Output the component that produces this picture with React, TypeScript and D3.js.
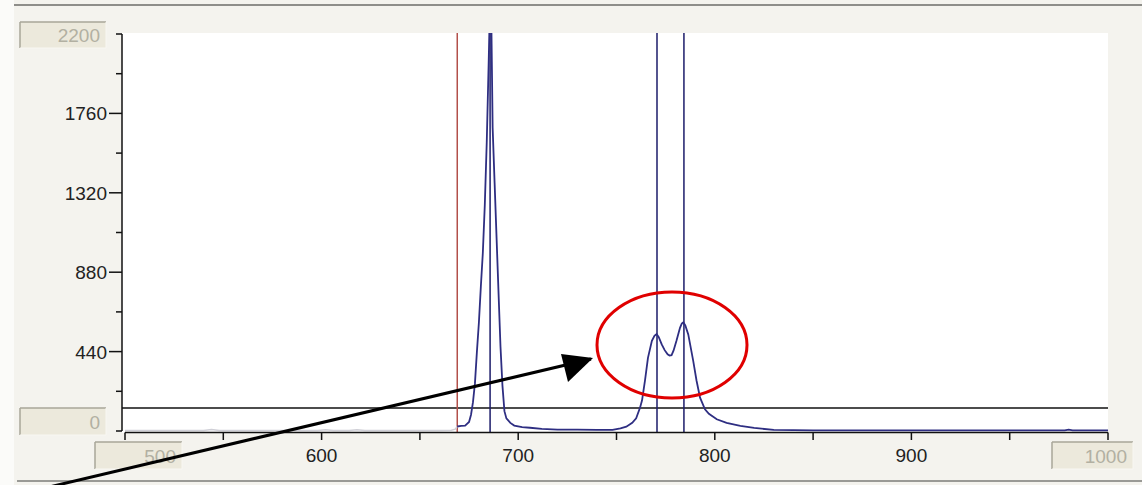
import React from "react";
import * as d3 from "d3";

const wavelengths = [500, 540, 544, 548, 598, 602, 606, 614, 618, 622, 660, 666, 668, 669,
  671, 673, 675, 676, 677, 678, 679, 680, 681, 682, 683, 684, 685, 685.7, 686.3, 687, 688, 689, 690, 691, 692, 693, 694, 696, 698,
  702, 706, 712, 720, 730, 740, 748, 752, 755, 758, 760, 762, 763, 764.5, 766, 768, 769.3, 770.4, 771.5, 773, 774.5, 776, 777, 778, 779, 780.5, 782.3, 783.2, 784, 785, 786.5,
  789, 790.7, 792.5, 795, 797, 801, 806, 813, 820, 830, 850, 900, 960, 978, 980, 982, 1000];
const intensities = [3, 3, 8, 3, 3, 7, 3, 3, 7, 3, 3, 4, 10, 25,
  28, 30, 50, 90, 160, 265, 440, 600, 800, 985, 1250, 1600, 2050, 2400, 2300, 1680, 1375, 1070, 765, 465, 250, 110, 70, 45, 30,
  22, 18, 12, 8, 8, 6, 6, 15, 24, 45, 70, 130, 170, 280, 405, 500, 528, 537, 520, 480, 448, 425, 418, 420, 445, 500, 572, 595, 602, 585, 535,
  390, 280, 185, 120, 95, 65, 45, 28, 17, 6, 4, 3, 3, 3, 8, 3, 3];

const cutoff = 669;
const markerLines = [685.7, 770.6, 784.3];
const threshold = 127;

const yMajorTicks = [440, 880, 1320, 1760];
const yMinorTicks = [220, 660, 1100, 1540, 1980];
const xTicks = [500, 550, 600, 650, 700, 750, 800, 850, 900, 950, 1000];
const xLabels = [600, 700, 800, 900];

const W = 1142;
const H = 485;

export default function App() {
  const x = d3.scaleLinear().domain([500, 1000]).range([125, 1108]);
  const y = d3.scaleLinear().domain([0, 2200]).range([431, 34]);
  const pts = wavelengths.map((w, i) => [w, intensities[i]] as [number, number]);
  const faint = pts.filter((p) => p[0] <= cutoff);
  const dark = pts.filter((p) => p[0] >= cutoff);
  const line = d3.line<[number, number]>().x((d) => x(d[0])).y((d) => y(d[1]));
  const font = "'Liberation Sans', Arial, sans-serif";

  const box = (bx: number, by: number, bw: number, bh: number, label: string) => (
    <g key={label}>
      <rect x={bx} y={by} width={bw} height={bh} fill="#ece9dc" />
      <line x1={bx} y1={by} x2={bx + bw} y2={by} stroke="#a8a698" strokeWidth={1.5} />
      <line x1={bx} y1={by} x2={bx} y2={by + bh} stroke="#a8a698" strokeWidth={1.5} />
      <line x1={bx} y1={by + bh} x2={bx + bw} y2={by + bh} stroke="#f8f7f2" />
      <line x1={bx + bw} y1={by} x2={bx + bw} y2={by + bh} stroke="#f8f7f2" />
      <text x={bx + bw - 6} y={by + bh / 2 + 7} textAnchor="end" fontFamily={font} fontSize={19} fill="#b2b0a2">
        {label}
      </text>
    </g>
  );

  return (
    <svg width={W} height={H} style={{ position: "absolute", left: 0, top: 0, display: "block" }}>
      <defs>
        <clipPath id="plotclip">
          <rect x={122} y={33} width={986} height={400} />
        </clipPath>
      </defs>
      <rect x={0} y={0} width={W} height={H} fill="#f4f3ee" />
      <rect x={0} y={0} width={14} height={H} fill="#fbfbf9" />
      <line x1={14} y1={5} x2={W} y2={5} stroke="#8e8e8a" strokeWidth={2} />
      <line x1={17} y1={481} x2={W} y2={481} stroke="#9a9a96" strokeWidth={2} />
      {/* plot area */}
      <rect x={122} y={33} width={986} height={400} fill="#ffffff" />

      {/* threshold line */}
      <line x1={122} x2={1108} y1={y(threshold)} y2={y(threshold)} stroke="#111" strokeWidth={1.5} />

      {/* marker lines */}
      <line x1={x(cutoff)} x2={x(cutoff)} y1={33} y2={432} stroke="#b2504a" strokeWidth={1.5} />
      {markerLines.map((m) => (
        <line key={m} x1={x(m)} x2={x(m)} y1={33} y2={432} stroke="#1c1c6a" strokeWidth={1.5} />
      ))}

      <g clipPath="url(#plotclip)">
        <path d={line(faint) || ""} fill="none" stroke="#cfcfd6" strokeWidth={1.5} />
        <path d={line(dark) || ""} fill="none" stroke="#2e2e82" strokeWidth={1.8} />
      </g>

      {/* y axis */}
      <line x1={122} x2={122} y1={y(2200)} y2={y(0)} stroke="#111" strokeWidth={1.5} />
      <line x1={116} x2={122} y1={y(2200)} y2={y(2200)} stroke="#111" strokeWidth={1.5} />
      <line x1={116} x2={122} y1={y(0)} y2={y(0)} stroke="#111" strokeWidth={1.5} />
      {yMinorTicks.map((t) => (
        <line key={"mi" + t} x1={116} x2={122} y1={y(t)} y2={y(t)} stroke="#111" strokeWidth={1.5} />
      ))}
      {yMajorTicks.map((t) => (
        <g key={"ma" + t}>
          <line x1={109} x2={122} y1={y(t)} y2={y(t)} stroke="#111" strokeWidth={1.5} />
          <text x={107} y={y(t) + 7} textAnchor="end" fontFamily={font} fontSize={19} fill="#222">
            {t}
          </text>
        </g>
      ))}

      {/* x axis */}
      <line x1={x(500)} x2={x(1000)} y1={432.5} y2={432.5} stroke="#111" strokeWidth={1.5} />
      {xTicks.map((t) => (
        <line key={"xt" + t} x1={x(t)} x2={x(t)} y1={432.5} y2={440} stroke="#111" strokeWidth={1.5} />
      ))}
      {xLabels.map((t) => (
        <text key={"xl" + t} x={x(t)} y={462} textAnchor="middle" fontFamily={font} fontSize={19} fill="#222">
          {t}
        </text>
      ))}

      {box(20, 22, 86, 26, "2200")}
      {box(20, 408, 86, 27, "0")}
      {box(95, 442, 87, 27, "500")}
      {box(1052, 442, 81, 27, "1000")}

      {/* annotation */}
      <ellipse cx={672} cy={345} rx={75} ry={53} fill="none" stroke="#e00000" strokeWidth={3} />
      <line x1={45} y1={488} x2={591} y2={359} stroke="#000" strokeWidth={3} />
      <path d="M 593 358 L 561 354 L 568 382 Z" fill="#000" />
    </svg>
  );
}
